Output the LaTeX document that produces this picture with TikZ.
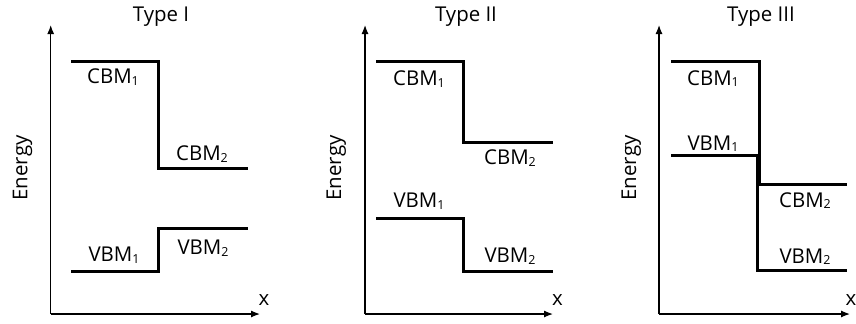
\documentclass[tikz,border=0pt]{standalone}
\usepackage{fontspec}
\setmainfont{Open Sans}
\usetikzlibrary{arrows.meta}
\newcommand\lev[2]{#1\raisebox{-0.08em}{\fontsize{12.5}{12.5}\selectfont #2}}
\begin{document}
\begin{tikzpicture}[x=1bp,y=-1bp,
  axis/.style={line width=1.2bp,-{Latex[length=9bp,width=7bp]}},
  band/.style={line width=3bp,line join=miter},
  txt/.style={font=\fontsize{20.5}{20.5}\selectfont,inner sep=0pt,anchor=base},
  vtxt/.style={txt,rotate=90}]
\useasboundingbox (0,0) rectangle (856,323);

% ---------- Type I ----------
\coordinate (o1) at (50.7,314);
\coordinate (y1) at (50.7,25);
\coordinate (x1) at (260,314);
\draw[axis] (o1) -- (y1);
\draw[axis] (o1) -- (x1);
\draw[band] (71,61) -- (158,61) -- (158,168) -- (248,168);
\draw[band] (71,271) -- (158,271) -- (158,228) -- (248,228);
\node[txt] (t1) at (161,21.7) {Type I};
\node[vtxt] (e1) at (27.3,168) {Energy};
\node[txt] (xl1) at (264,305) {x};
\node[txt] (c11) at (113,83.5) {\lev{CBM}{1}};
\node[txt] (c12) at (202,160.5) {\lev{CBM}{2}};
\node[txt] (v11) at (114,261.5) {\lev{VBM}{1}};
\node[txt] (v12) at (203,254.5) {\lev{VBM}{2}};

% ---------- Type II ----------
\coordinate (o2) at (365,314);
\coordinate (y2) at (365,25);
\coordinate (x2) at (553,314);
\draw[axis] (o2) -- (y2);
\draw[axis] (o2) -- (x2);
\draw[band] (376,61) -- (463,61) -- (463,142) -- (553,142);
\draw[band] (376,218) -- (463,218) -- (463,271) -- (553,271);
\node[txt] (t2) at (466,21.7) {Type II};
\node[vtxt] (e2) at (341,168) {Energy};
\node[txt] (xl2) at (557.5,305) {x};
\node[txt] (c21) at (419,85.5) {\lev{CBM}{1}};
\node[txt] (c22) at (510,164.5) {\lev{CBM}{2}};
\node[txt] (v21) at (419,207.5) {\lev{VBM}{1}};
\node[txt] (v22) at (510,262.5) {\lev{VBM}{2}};

% ---------- Type III ----------
\coordinate (o3) at (659,314);
\coordinate (y3) at (659,25);
\coordinate (x3) at (850,314);
\draw[axis] (o3) -- (y3);
\draw[axis] (o3) -- (x3);
\draw[band] (671,61) -- (759,61) -- (759,184) -- (847,184);
\draw[band] (671,155) -- (757,155) -- (757,270) -- (847,270);
\node[txt] (t3) at (761,21.7) {Type III};
\node[vtxt] (e3) at (636,168) {Energy};
\node[txt] (xl3) at (851,305) {x};
\node[txt] (c31) at (713,85) {\lev{CBM}{1}};
\node[txt] (v31) at (713,150) {\lev{VBM}{1}};
\node[txt] (c32) at (805,207) {\lev{CBM}{2}};
\node[txt] (v32) at (805,263) {\lev{VBM}{2}};
\end{tikzpicture}
\end{document}
